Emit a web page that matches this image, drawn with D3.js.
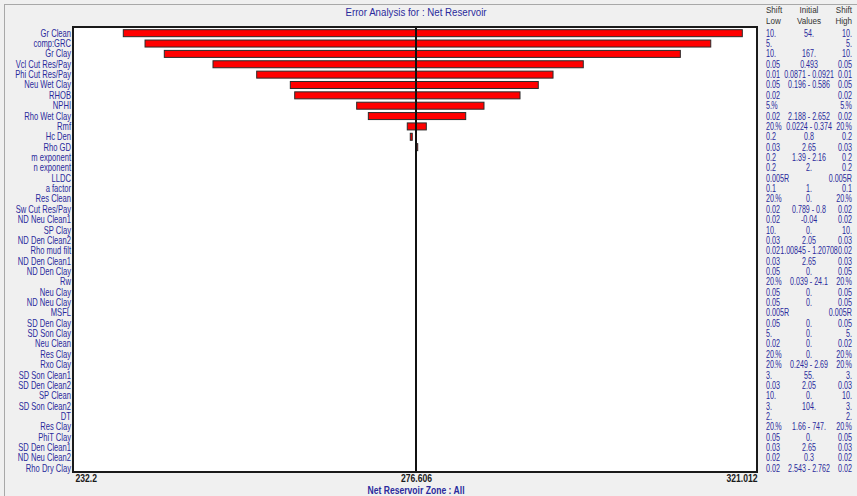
<!DOCTYPE html>
<html>
<head>
<meta charset="utf-8">
<script src="https://cdn.jsdelivr.net/npm/d3@7/dist/d3.min.js"></script>
<style>
  html, body { margin: 0; padding: 0; background: #f0f0f0; }
  svg { display: block; }
  text { font-family: "Liberation Sans", Arial, sans-serif; }
</style>
</head>
<body>
<svg id="chart" width="857" height="496"></svg>
<script>
// Parameters of the sensitivity run, top to bottom
const labels = [
  "Gr Clean", "comp:GRC", "Gr Clay", "Vcl Cut Res/Pay", "Phi Cut Res/Pay", "Neu Wet Clay",
  "RHOB", "NPHI", "Rho Wet Clay", "Rmf", "Hc Den", "Rho GD", "m exponent", "n exponent",
  "LLDC", "a factor", "Res Clean", "Sw Cut Res/Pay", "ND Neu Clean1", "SP Clay",
  "ND Den Clean2", "Rho mud filt", "ND Den Clean1", "ND Den Clay", "Rw", "Neu Clay",
  "ND Neu Clay", "MSFL", "SD Den Clay", "SD Son Clay", "Neu Clean", "Res Clay", "Rxo Clay",
  "SD Son Clean1", "SD Den Clean2", "SP Clean", "SD Son Clean2", "DT", "Res Clay",
  "PhiT Clay", "SD Den Clean1", "ND Neu Clean2", "Rho Dry Clay"
];

// Net Reservoir result with each parameter shifted low / high
const lowVals = [
  238.49, 241.32, 243.83, 250.17, 255.86, 260.24, 260.81, 268.88, 270.40, 275.47,
  275.86, 276.65, 276.606, 276.606, 276.606, 276.606, 276.606, 276.606, 276.606, 276.606,
  276.606, 276.606, 276.606, 276.606, 276.606, 276.606, 276.606, 276.606, 276.606, 276.606,
  276.606, 276.606, 276.606, 276.606, 276.606, 276.606, 276.606, 276.606, 276.606, 276.606,
  276.606, 276.606, 276.606
];
const highVals = [
  319.10, 314.99, 311.03, 298.39, 294.45, 292.53, 290.15, 285.46, 283.08, 277.95,
  276.12, 276.83, 276.606, 276.606, 276.606, 276.606, 276.606, 276.606, 276.606, 276.606,
  276.606, 276.606, 276.606, 276.606, 276.606, 276.606, 276.606, 276.606, 276.606, 276.606,
  276.606, 276.606, 276.606, 276.606, 276.606, 276.606, 276.606, 276.606, 276.606, 276.606,
  276.606, 276.606, 276.606
];

// Table columns to the right of the plot
const shiftLow = [
  "10.", "5.", "10.", "0.05", "0.01", "0.05", "0.02", "5.%", "0.02", "20.%",
  "0.2", "0.03", "0.2", "0.2", "0.005R", "0.1", "20.%", "0.02", "0.02", "10.",
  "0.03", "0.02", "0.03", "0.05", "20.%", "0.05", "0.05", "0.005R", "0.05", "5.",
  "0.02", "20.%", "20.%", "3.", "0.03", "10.", "3.", "2.", "20.%", "0.05",
  "0.03", "0.02", "0.02"
];
const initVals = [
  "54.", "", "167.", "0.493", "0.0871 - 0.0921", "0.196 - 0.586", "", "", "2.188 - 2.652", "0.0224 - 0.374",
  "0.8", "2.65", "1.39 - 2.16", "2.", "", "1.", "0.", "0.789 - 0.8", "-0.04", "0.",
  "2.05", "1.00845 - 1.20708", "2.65", "0.", "0.039 - 24.1", "0.", "0.", "", "0.", "0.",
  "0.", "0.", "0.249 - 2.69", "55.", "2.05", "0.", "104.", "", "1.66 - 747.", "0.",
  "2.65", "0.3", "2.543 - 2.762"
];
const shiftHigh = shiftLow.slice();

const axisTicks = [232.2, 276.606, 321.012];
const baseValue = 276.606;
const titleText = "Error Analysis for : Net Reservoir";
const footerText = "Net Reservoir   Zone : All";

const NAVY = "#2a2a9c";
const svg = d3.select("#chart");

// window panel edge
svg.append("line").attr("x1", 4).attr("x2", 857).attr("y1", 4.5).attr("y2", 4.5)
  .attr("stroke", "#a8a8a8").attr("stroke-width", 1);
svg.append("line").attr("x1", 4.5).attr("x2", 4.5).attr("y1", 4).attr("y2", 496)
  .attr("stroke", "#a8a8a8").attr("stroke-width", 1);

const plot = { left: 75, right: 757, top: 28, bottom: 473.5 };

const x = d3.scaleLinear().domain([axisTicks[0], axisTicks[2]]).range([plot.left, plot.right]);
const y = d3.scaleBand().domain(d3.range(labels.length)).range([plot.top, plot.bottom]).padding(0);

// plot area
svg.append("rect")
  .attr("x", 73).attr("y", 27).attr("width", 684).attr("height", 445)
  .attr("fill", "#ffffff").attr("stroke", "#1a1a1a").attr("stroke-width", 2);

// narrow text helper; a trailing "%" is tucked in slightly
function narrow(g, px, py, str, opts) {
  const t = g.append("text")
    .attr("transform", `translate(${px},${py}) scale(${opts.sx},1)`)
    .attr("text-anchor", opts.anchor || "start")
    .attr("font-size", opts.size || 10)
    .attr("font-weight", opts.weight || "normal")
    .attr("fill", opts.fill || NAVY);
  if (str.endsWith("%")) {
    t.append("tspan").text(str.slice(0, -1));
    t.append("tspan").attr("dx", -1).text("%");
  } else {
    t.text(str);
  }
  return t;
}

// title
narrow(svg, 416, 15.5, titleText, { anchor: "middle", sx: 0.97, size: 10 });

// bars
const barH = 7;
const rows = d3.range(labels.length).filter(i => lowVals[i] !== highVals[i]);
svg.append("g").selectAll("rect").data(rows).join("rect")
  .attr("x", i => x(Math.min(lowVals[i], highVals[i])))
  .attr("width", i => Math.max(1, Math.abs(x(highVals[i]) - x(lowVals[i]))))
  .attr("y", i => y(i) + (y.bandwidth() - barH) / 2)
  .attr("height", barH)
  .attr("fill", "#ff0000")
  .attr("stroke", "#2b2b2b")
  .attr("stroke-width", 1);

// base value line
svg.append("line")
  .attr("x1", x(baseValue)).attr("x2", x(baseValue))
  .attr("y1", 28).attr("y2", 471)
  .attr("stroke", "#111").attr("stroke-width", 2);

// parameter labels
const yAxis = svg.append("g")
  .attr("transform", `translate(71,0)`)
  .call(d3.axisLeft(y).tickSize(0).tickPadding(0).tickFormat(i => labels[i]));
yAxis.select(".domain").remove();
yAxis.selectAll("text")
  .attr("font-family", "Liberation Sans, Arial, sans-serif")
  .attr("font-size", 10)
  .attr("fill", NAVY)
  .attr("dy", "0.35em")
  .attr("transform", "scale(0.76,1)");

// value axis
const xAxis = svg.append("g")
  .attr("transform", `translate(0,474)`)
  .call(d3.axisBottom(x).tickValues(axisTicks).tickSize(0).tickPadding(0)
    .tickFormat(d => d3.format("")(d)));
xAxis.select(".domain").remove();
xAxis.selectAll("text")
  .attr("font-family", "Liberation Sans, Arial, sans-serif")
  .attr("font-size", 10)
  .attr("font-weight", "bold")
  .attr("fill", "#1a1a1a")
  .attr("dy", "0.75em")
  .attr("text-anchor", (d, i) => i === 0 ? "start" : (i === axisTicks.length - 1 ? "end" : "middle"))
  .attr("transform", "scale(0.86,1)");

// footer
narrow(svg, 416, 494, footerText, { anchor: "middle", sx: 0.86, size: 10, weight: "bold" });

// table header
const hdr = svg.append("g");
const HDR = "#333333";
narrow(hdr, 766, 12.5, "Shift", { sx: 0.85, size: 9.5, fill: HDR });
narrow(hdr, 766, 23.5, "Low", { sx: 0.85, size: 9.5, fill: HDR });
narrow(hdr, 809, 12.5, "Initial", { anchor: "middle", sx: 0.85, size: 9.5, fill: HDR });
narrow(hdr, 809, 23.5, "Values", { anchor: "middle", sx: 0.85, size: 9.5, fill: HDR });
narrow(hdr, 852, 12.5, "Shift", { anchor: "end", sx: 0.85, size: 9.5, fill: HDR });
narrow(hdr, 852, 23.5, "High", { anchor: "end", sx: 0.85, size: 9.5, fill: HDR });

// table rows
const tbl = svg.append("g");
labels.forEach((_, i) => {
  const cy = y(i) + y.bandwidth() / 2 + 3.5;
  narrow(tbl, 766, cy, shiftLow[i], { sx: 0.72, size: 10 });
  if (initVals[i]) narrow(tbl, 809, cy, initVals[i], { anchor: "middle", sx: 0.71, size: 10 });
  narrow(tbl, 852, cy, shiftHigh[i], { anchor: "end", sx: 0.72, size: 10 });
});
</script>
</body>
</html>
